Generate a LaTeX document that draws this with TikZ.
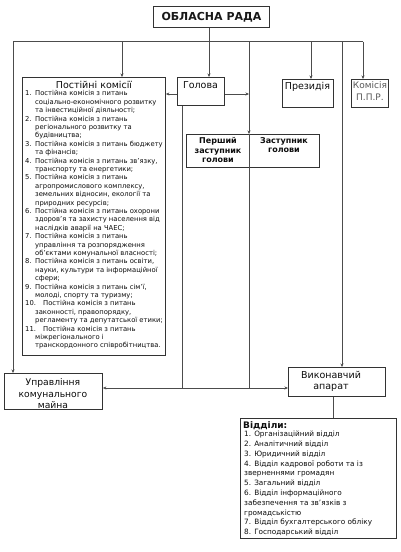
\documentclass[tikz,border=0pt]{standalone}
\usepackage{fontspec}
\setmainfont{DejaVu Sans}
\usetikzlibrary{arrows.meta}
\newcommand\numb[1]{\makebox[10pt][l]{#1}}
\newcommand\numbb[1]{\makebox[18pt][l]{#1}}
\newcommand\ind{\hspace*{10pt}}
\begin{document}
\begin{tikzpicture}[x=1pt,y=-1pt,
  box/.style={draw=black!80, line width=0.9pt, inner sep=0pt, anchor=north west},
  conn/.style={draw=black!70, line width=0.8pt},
  arr/.style={conn, -{Stealth[length=3.5pt,width=3pt]}},
  dbl/.style={conn, {Stealth[length=3.5pt,width=3pt]}-{Stealth[length=3.5pt,width=3pt]}},
  txt/.style={inner sep=0pt, text=black!95}]
\useasboundingbox (0,0) rectangle (400,552);
\fill[white] (0,0) rectangle (400,552);

% boxes
\node[box, minimum width=116pt, minimum height=21pt, font=\bfseries\fontsize{11}{13}\selectfont, text=black!90] (rada) at (153,6) {ОБЛАСНА РАДА};
\node[box, minimum width=143pt, minimum height=278pt] (pk) at (22,77) {};
\node[box, minimum width=47pt, minimum height=28pt] (hol) at (177,77) {};
\node[box, minimum width=51pt, minimum height=28pt] (prez) at (282,79) {};
\node[box, minimum width=37pt, minimum height=28pt] (kom) at (351,79) {};
\node[box, minimum width=133pt, minimum height=33pt] (dep) at (186,134) {};
\node[box, minimum width=98pt, minimum height=36pt] (upr) at (4,373) {};
\node[box, minimum width=97pt, minimum height=29pt] (vyk) at (288,367) {};
\node[box, minimum width=156pt, minimum height=120pt] (vid) at (240,418) {};

% texts
\node[txt, font=\fontsize{9.5}{11}\selectfont] (pkt) at (94,85) {Постійні комісії};
\node[txt, anchor=north west, align=left, font=\fontsize{6.8}{8.4}\selectfont] (pki) at (25,90.5) {%
\numb{1.}Постійна комісія з питань\\
\ind соціально-економічного розвитку\\
\ind та інвестиційної діяльності;\\
\numb{2.}Постійна комісія з питань\\
\ind регіонального розвитку та\\
\ind будівництва;\\
\numb{3.}Постійна комісія з питань бюджету\\
\ind та фінансів;\\
\numb{4.}Постійна комісія з питань зв’язку,\\
\ind транспорту та енергетики;\\
\numb{5.}Постійна комісія з питань\\
\ind агропромислового комплексу,\\
\ind земельних відносин, екології та\\
\ind природних ресурсів;\\
\numb{6.}Постійна комісія з питань охорони\\
\ind здоров’я та захисту населення від\\
\ind наслідків аварії на ЧАЕС;\\
\numb{7.}Постійна комісія з питань\\
\ind управління та розпорядження\\
\ind об’єктами комунальної власності;\\
\numb{8.}Постійна комісія з питань освіти,\\
\ind науки, культури та інформаційної\\
\ind сфери;\\
\numb{9.}Постійна комісія з питань сім’ї,\\
\ind молоді, спорту та туризму;\\
\numbb{10.}Постійна комісія з питань\\
\ind законності, правопорядку,\\
\ind регламенту та депутатської етики;\\
\numbb{11.}Постійна комісія з питань\\
\ind міжрегіонального і\\
\ind транскордонного співробітництва.};

\node[txt, font=\fontsize{9.5}{11}\selectfont] (holt) at (200.5,85) {Голова};
\node[txt, font=\fontsize{9.5}{11}\selectfont] (prezt) at (307.5,87) {Президія};
\node[txt, align=center, text=black!65, font=\fontsize{9}{12}\selectfont] (komt) at (370,91) {Комісія\\П.П.Р.};
\node[txt, anchor=north, align=center, font=\bfseries\fontsize{8}{9.8}\selectfont] (dep1) at (218,137) {Перший\\заступник\\голови};
\node[txt, anchor=north, align=center, font=\bfseries\fontsize{8}{9.8}\selectfont] (dep2) at (284,137) {Заступник\\голови};
\node[txt, align=center, font=\fontsize{9.2}{11.5}\selectfont] (uprt) at (53,394) {Управління\\комунального\\майна};
\node[txt, align=center, font=\fontsize{9.5}{11}\selectfont] (vykt) at (331,381) {Виконавчий\\апарат};
\node[txt, anchor=west, font=\bfseries\fontsize{9}{11}\selectfont] (vidt) at (243,426) {Відділи:};
\node[txt, anchor=north west, align=left, font=\fontsize{7.3}{9.8}\selectfont] (vidi) at (244,431) {%
1. Організаційний відділ\\
2. Аналітичний відділ\\
3. Юридичний відділ\\
4. Відділ кадрової роботи та із\\
зверненнями громадян\\
5. Загальний відділ\\
6. Відділ інформаційного\\
забезпечення та зв’язків з\\
громадськістю\\
7. Відділ бухгалтерського обліку\\
8. Господарський відділ};

% coordinates
\coordinate (hl) at (13,41.5);
\coordinate (hr) at (363,41.5);
\coordinate (j1) at (122,41.5);
\coordinate (j2) at (209,41.5);
\coordinate (j3) at (249,41.5);
\coordinate (j4) at (311,41.5);
\coordinate (j5) at (342,41.5);
\coordinate (hy) at (0,94);
\coordinate (hx) at (182,0);
\coordinate (bot) at (0,388);
\coordinate (vx) at (333,0);

% connectors
\draw[conn] (rada.south -| j2) -- (j2);
\draw[conn] (hl) -- (hr);
\draw[arr] (hl) -- (hl |- upr.north);
\draw[arr] (j1) -- (j1 |- pk.north);
\draw[arr] (j2) -- (j2 |- hol.north);
\draw[arr] (j3) -- (j3 |- dep.north);
\draw[conn] (j3 |- dep.north) -- (j3 |- bot);
\draw[arr] (j4) -- (j4 |- prez.north);
\draw[arr] (j5) -- (j5 |- vyk.north);
\draw[arr] (hr) -- (hr |- kom.north);
\draw[arr] (hol.west |- hy) -- (pk.east |- hy);
\draw[arr] (hol.east |- hy) -- (j3 |- hy);
\draw[conn] (hol.south -| hx) -- (hx |- bot);
\draw[dbl] (upr.east |- bot) -- (vyk.west |- bot);
\draw[conn] (vyk.south -| vx) -- (vid.north -| vx);
\end{tikzpicture}
\end{document}
